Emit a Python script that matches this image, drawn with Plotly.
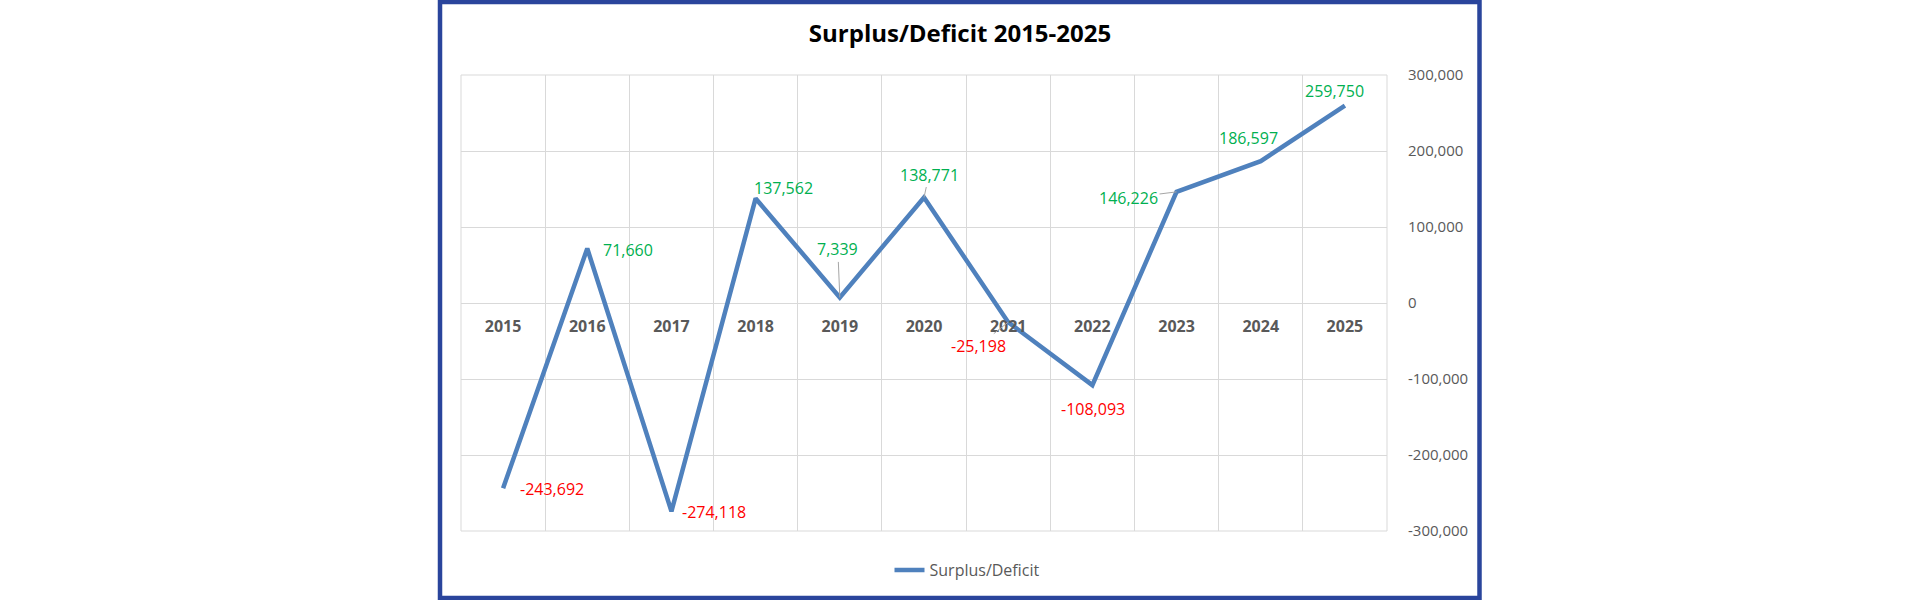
import plotly.graph_objects as go

# ---- data ----
years = ["2015", "2016", "2017", "2018", "2019", "2020", "2021", "2022", "2023", "2024", "2025"]
surplus = [-243692, 71660, -274118, 137562, 7339, 138771, -25198, -108093, 146226, 186597, 259750]
y_tickvals = [-300000, -200000, -100000, 0, 100000, 200000, 300000]
y_ticktext = ["-300,000", "-200,000", "-100,000", "0", "100,000", "200,000", "300,000"]

# label placement (pixel offsets of label centre from point) and leader-line flags
label_dx = [49, 41, 43, 28, -2, 5, -30, 1, -48, -12, -10]
label_dy = [1, 1, 1, -10, -48, -23, 24, 24, 6, -23, -15]
leader = [False, False, False, False, True, True, True, False, True, False, False]

W, H = 1920, 600
ML, MR, MT, MB = 461, 533, 75, 69
pw = W - ML - MR
ph = H - MT - MB

LINE = "#4F81BD"
GRID = "#D9D9D9"
GRAY = "#595959"
FONT = "Open Sans"

fig = go.Figure()
fig.add_trace(go.Scatter(
    x=years, y=surplus, mode="lines", name="Surplus/Deficit",
    line=dict(color=LINE, width=4.5), hoverinfo="x+y",
))

annotations = []
for i, (v, dx, dy, ld) in enumerate(zip(surplus, label_dx, label_dy, leader)):
    annotations.append(dict(
        x=i, y=v, xref="x", yref="y",
        text=f"{v:,}",
        font=dict(family=FONT, size=16, color="#00B050" if v >= 0 else "#FF0000"),
        showarrow=True, ax=dx, ay=dy,
        arrowhead=0, arrowwidth=1, standoff=0,
        arrowcolor="#A6A6A6" if ld else "rgba(255,255,255,0)",
    ))

def px_x(p):
    return (p - ML) / pw

def px_y(p):
    return (H - MB - p) / ph

# plot-area outline (edge grid lines)
fig.add_shape(type="rect", xref="paper", yref="paper", x0=0, x1=1, y0=0, y1=1,
              line=dict(color=GRID, width=1), layer="below")
# chart border (chart area outline)
fig.add_shape(type="rect", xref="paper", yref="paper",
              x0=px_x(440), x1=px_x(1479.5), y0=px_y(2), y1=px_y(598),
              line=dict(color="#2A459C", width=4.5), layer="above")

fig.update_layout(
    width=W, height=H,
    margin=dict(l=ML, r=MR, t=MT, b=MB, pad=0),
    paper_bgcolor="white", plot_bgcolor="white",
    title=dict(text="<b>Surplus/Deficit 2015-2025</b>", x=0.5, xref="container",
               xanchor="center", y=1 - 34 / H, yanchor="middle",
               font=dict(family=FONT, size=24, color="#000000")),
    font=dict(family=FONT, color=GRAY),
    showlegend=True,
    legend=dict(orientation="h", x=px_x(967), xanchor="center", y=px_y(570), yanchor="middle",
                font=dict(family=FONT, size=16, color=GRAY), bgcolor="rgba(0,0,0,0)"),
    xaxis=dict(
        type="category", categoryorder="array", categoryarray=years,
        tickson="boundaries", showgrid=True, gridcolor=GRID, gridwidth=1,
        anchor="free", position=0.5, ticks="", showline=False, zeroline=False,
        tickfont=dict(family=FONT, size=16, color=GRAY, weight="bold"),
        ticklabelstandoff=12, range=[-0.5, 10.5],
    ),
    yaxis=dict(
        side="right", range=[-300000, 300000], tickvals=y_tickvals, ticktext=y_ticktext,
        showgrid=True, gridcolor=GRID, gridwidth=1, zeroline=True, zerolinecolor=GRID,
        zerolinewidth=1, ticks="", showline=False,
        tickfont=dict(family=FONT, size=15, color=GRAY), ticklabelstandoff=20,
    ),
    annotations=annotations,
)

fig.write_html("out.html")
